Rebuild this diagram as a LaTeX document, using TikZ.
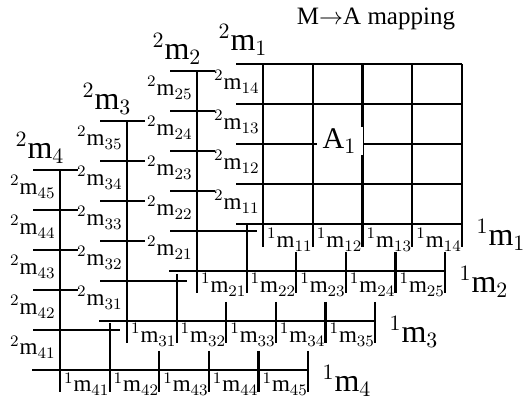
\documentclass[tikz,border=0pt]{standalone}
\usepackage{fontspec}
\setmainfont{Liberation Serif}

\begin{document}
\begin{tikzpicture}[x=0.5pt, y=-0.5pt,
    rule/.style={line width=1.1pt},
    lab/.style={font=\fontsize{11.5}{12}\selectfont, inner sep=0.5pt},
    biglab/.style={font=\fontsize{16}{16}\selectfont, inner sep=0pt}]

  \useasboundingbox (0,0) rectangle (530,400);

  \node[font=\fontsize{12.5}{13}\selectfont] (title) at (376,19) {M$\rightarrow$A mapping};

  % level 1: full 4x4 grid
  \foreach \j in {0,...,4}
    \draw[rule] (236,{224-\j*40}) -- (462,{224-\j*40});
  \foreach \i in {0,...,4}
    \draw[rule] ({263+\i*49.75},64) -- ({263+\i*49.75},247);
  \foreach \j in {1,...,4}
    \node[lab, anchor=east] (s1\j) at (261,{224-(\j-0.5)*40-2}) {${}^2\mathrm{m}_{1\j}$};
  \foreach \i in {1,...,4}
    \node[lab] (r1\i) at ({263+(\i-0.5)*49.75+2},240) {${}^1\mathrm{m}_{1\i}$};
  \node[biglab] (s1) at (243,40) {${}^2\mathrm{m}_1$};
  \node[biglab] (r1) at (501,235) {${}^1\mathrm{m}_1$};
  \node[fill=white, inner sep=1pt, minimum width=23pt,
        font=\fontsize{15}{15}\selectfont] (a1) at (339.5,141) {A$_1$};

  % levels 2-4: axes, ticks and the first cell
  \foreach \k/\cx/\cy in {2/197/271, 3/127/321, 4/60/370} {
    \draw[rule] (\cx,{\cy-200}) -- (\cx,{\cy+22});
    \draw[rule] ({\cx-28},\cy) -- ({\cx+248},\cy);
    \draw[rule] ({\cx-27},{\cy-40}) -- ({\cx+60},{\cy-40});
    \draw[rule] ({\cx+49.6},{\cy-47}) -- ({\cx+49.6},{\cy+22});
    \foreach \j in {2,...,5}
      \draw[rule] ({\cx-27},{\cy-\j*40}) -- ({\cx+18},{\cy-\j*40});
    \foreach \i in {2,...,5}
      \draw[rule] ({\cx+\i*49.6},{\cy-19}) -- ({\cx+\i*49.6},{\cy+22});
    \foreach \j in {1,...,5}
      \node[lab, anchor=east] (s\k\j) at ({\cx-3},{\cy-(\j-0.5)*40-3}) {${}^2\mathrm{m}_{\k\j}$};
    \foreach \i in {1,...,5}
      \node[lab] (r\k\i) at ({\cx+(\i-0.5)*49.6+2},{\cy+14}) {${}^1\mathrm{m}_{\k\i}$};
    \node[biglab] (s\k) at ({\cx-20},{\cy-222}) {${}^2\mathrm{m}_{\k}$};
    \node[biglab] (r\k) at ({\cx+287},{\cy+11}) {${}^1\mathrm{m}_{\k}$};
  }
\end{tikzpicture}
\end{document}
